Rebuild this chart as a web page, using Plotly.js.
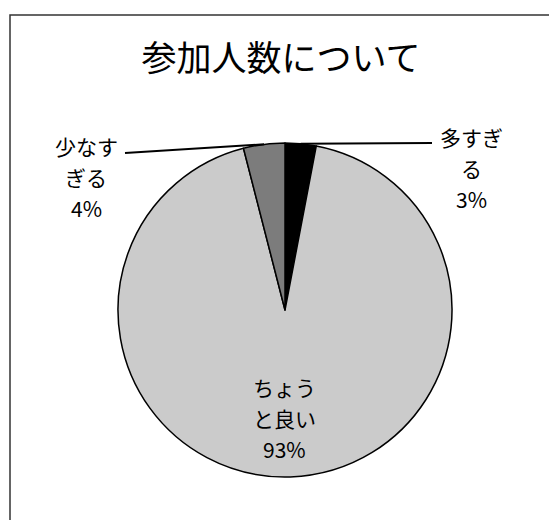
<!DOCTYPE html>
<html>
<head>
<meta charset="utf-8">
<script src="https://cdn.plot.ly/plotly-3.0.1.min.js"></script>
<style>
  html, body { margin: 0; padding: 0; background: #fff; }
  #chart { width: 549px; height: 520px; }
</style>
</head>
<body>
<div id="chart"></div>
<script>
// chart data
const categories = ['多すぎる', 'ちょうと良い', '少なすぎる'];
const wrappedLabels = ['多すぎ<br>る', 'ちょう<br>と良い', '少なす<br>ぎる'];
const percents = [3, 93, 4];
const sliceColors = ['#000000', '#cbcbcb', '#7c7c7c'];

const W = 549, H = 520;
const FONT = '"Noto Sans CJK JP", "Noto Sans", sans-serif';

// pie placement in pixels
const cx = 285, cy = 310, r = 167;
const px = x => x / W;
const py = y => 1 - y / H;

// label centres (pixels, middle line) for each slice
const labelPos = [[471, 168], [284, 418], [86, 177]];
const lineGap = 31;
// where the leader line ends away from the pie (null = none)
const leaderEnds = [[432, 143], null, [125, 153]];

const total = percents.reduce((a, b) => a + b, 0);

// mid-angle of each slice on the rim, going clockwise from 12 o'clock
const rimPoints = [];
let acc = 0;
percents.forEach(v => {
    const mid = (acc + v / 2) / total * 2 * Math.PI;
    rimPoints.push([cx + r * Math.sin(mid), cy - r * Math.cos(mid)]);
    acc += v;
});

// one annotation per text line so the spacing can be set exactly
const annotations = [];
categories.forEach((c, i) => {
    const lines = wrappedLabels[i].split('<br>');
    lines.push(Math.round(percents[i] / total * 100) + '%');
    const mid = (lines.length - 1) / 2;
    lines.forEach((t, k) => {
        annotations.push({
            x: px(labelPos[i][0]),
            y: py(labelPos[i][1] + (k - mid) * lineGap),
            xref: 'paper', yref: 'paper',
            xanchor: 'center', yanchor: 'middle',
            showarrow: false,
            text: t,
            font: { family: FONT, size: 21, color: '#000' }
        });
    });
});

const shapes = [
    // outer frame
    {
        type: 'rect', xref: 'paper', yref: 'paper',
        x0: px(10), x1: 1.05, y0: -0.05, y1: py(15),
        line: { color: '#333', width: 1.5 }
    }
];
leaderEnds.forEach((end, i) => {
    if (!end) return;
    shapes.push({
        type: 'line', xref: 'paper', yref: 'paper',
        x0: px(end[0]), y0: py(end[1]),
        x1: px(rimPoints[i][0]), y1: py(rimPoints[i][1]),
        line: { color: '#000', width: 2 }
    });
});

const trace = {
    type: 'pie',
    labels: categories,
    values: percents,
    sort: false,
    direction: 'clockwise',
    rotation: 0,
    textinfo: 'none',
    hoverinfo: 'label+percent',
    marker: {
        colors: sliceColors,
        line: { color: '#000', width: 1.5 }
    },
    domain: {
        x: [px(cx - r), px(cx + r)],
        y: [py(cy + r), py(cy - r)]
    }
};

const layout = {
    width: W,
    height: H,
    margin: { l: 0, r: 0, t: 0, b: 0 },
    paper_bgcolor: '#fff',
    showlegend: false,
    title: {
        text: '参加人数について',
        font: { family: FONT, size: 35, color: '#000' },
        x: px(281), xanchor: 'center',
        y: py(59), yanchor: 'middle',
        xref: 'paper', yref: 'paper'
    },
    annotations: annotations,
    shapes: shapes
};

Plotly.newPlot('chart', [trace], layout, { displayModeBar: false, staticPlot: true });
</script>
</body>
</html>
